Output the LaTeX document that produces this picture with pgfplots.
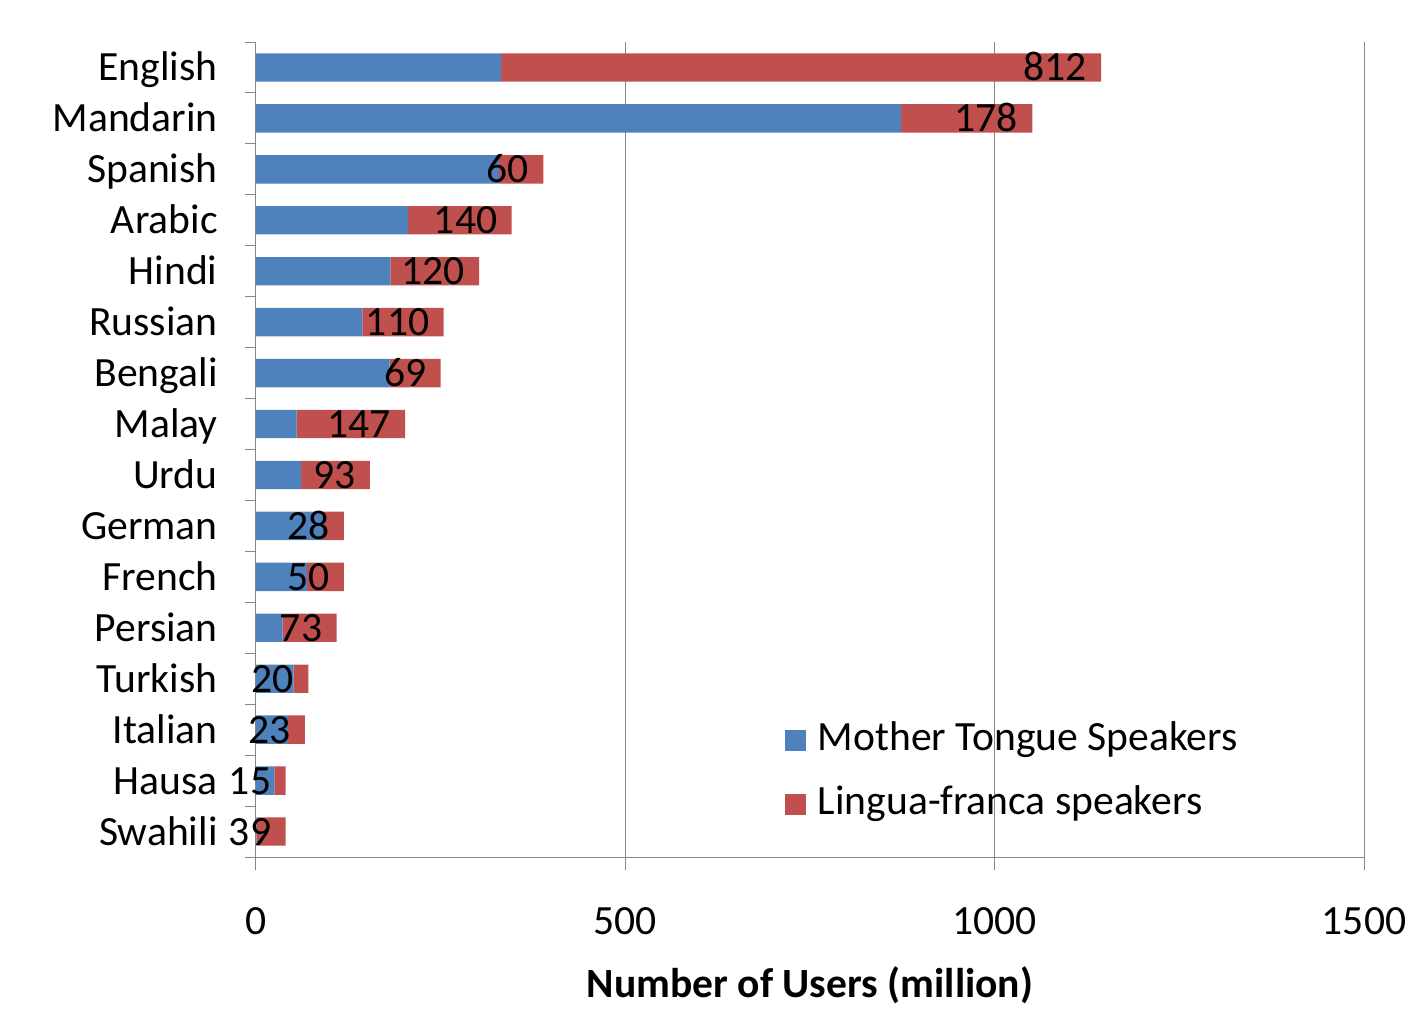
\documentclass[border=0pt]{standalone}
\usepackage{pgfplots}
\pgfplotsset{compat=1.18}
\usepackage{pgfplotstable}
\usepackage{fontspec}
\setmainfont{Carlito}
\definecolor{mblue}{HTML}{4F81BD}
\definecolor{lred}{HTML}{C0504D}
\definecolor{gridgray}{HTML}{868686}
\newcommand\cf{\fontsize{20.8bp}{25bp}\selectfont}
\pgfplotstableread{
idx mother lingua lab
0 332 812 812
1 873 178 178
2 329 60 60
3 206 140 140
4 182 120 120
5 144 110 110
6 181 69 69
7 55 147 147
8 61 93 93
9 91 28 28
10 69 50 50
11 36 73 73
12 51 20 20
13 43 23 23
14 25 15 15
15 1 39 39
}\data
\pgfplotsset{sqlegend/.style={legend image code/.code={\fill[##1] (0bp,-5.25bp) rectangle (10.5bp,5.25bp); \path (16.5bp,0bp);}}}
\begin{document}
\cf
\begin{tikzpicture}[font=\cf]
\begin{axis}[
  at={(0,0)}, anchor=south west,
  scale only axis, width=554bp, height=407.5bp,
  xbar stacked, bar width=0.557,
  xmin=0, xmax=1500, ymin=-0.5, ymax=15.5, y dir=reverse,
  axis x line*=bottom, axis y line*=left,
  axis line style={-, draw=gridgray, line width=0.5bp},
  xtick={0,500,1000,1500}, xticklabels={0,500,1000,1500},
  ytick={0,...,15},
  yticklabels={English,Mandarin,Spanish,Arabic,Hindi,Russian,Bengali,Malay,Urdu,German,French,Persian,Turkish,Italian,Hausa,Swahili},
  minor ytick={-0.5,0.5,...,15.5},
  major y tick style={draw=none},
  tick align=outside,
  major tick length=6.5bp, minor tick length=5.5bp,
  tick style={draw=gridgray, line width=0.5bp},
  xmajorgrids, grid style={draw=gridgray, line width=0.5bp},
  xticklabel style={font=\cf, anchor=base, yshift=-32bp, inner sep=0pt},
  yticklabel style={font=\cf, anchor=base east, xshift=-12.5bp, yshift=-6.75bp, inner sep=0pt},
  xlabel={\bfseries Number of Users (million)},
  xlabel style={font=\cf, at={(axis description cs:0.5,0)}, anchor=base, yshift=-70bp, inner sep=0pt},
  legend cell align=left,
  legend style={draw=none, fill=none, inner sep=0pt, outer sep=0pt, row sep=14bp,
    at={(axis description cs:0.4774,0)}, anchor=south west, yshift=17.5bp,
    nodes={inner sep=0pt, text height=14bp, text depth=4bp, font=\cf}},
]
\addplot[fill=mblue, draw=none, sqlegend] table[x=mother, y=idx] {\data};
\addlegendentry{Mother Tongue Speakers}
\addplot[fill=lred, draw=none, sqlegend] table[x=lingua, y=idx] {\data};
\addlegendentry{Lingua-franca speakers}
\end{axis}
\begin{axis}[
  at={(0,0)}, anchor=south west,
  scale only axis, width=554bp, height=407.5bp,
  xmin=0, xmax=1500, ymin=-0.5, ymax=15.5, y dir=reverse,
  hide axis, clip=false,
]
\addplot[only marks, mark=none, nodes near coords, point meta=explicit symbolic,
  every node near coord/.append style={font=\cf, anchor=base east, xshift=-7bp, yshift=-6.75bp, inner sep=0pt, text=black}]
  table[x expr=\thisrow{mother}+\thisrow{lingua}, y=idx, meta=lab] {\data};
\end{axis}
\pgfresetboundingbox
\path[use as bounding box] (-128bp,-78bp) rectangle (582bp,428.5bp);
\end{tikzpicture}
\end{document}
